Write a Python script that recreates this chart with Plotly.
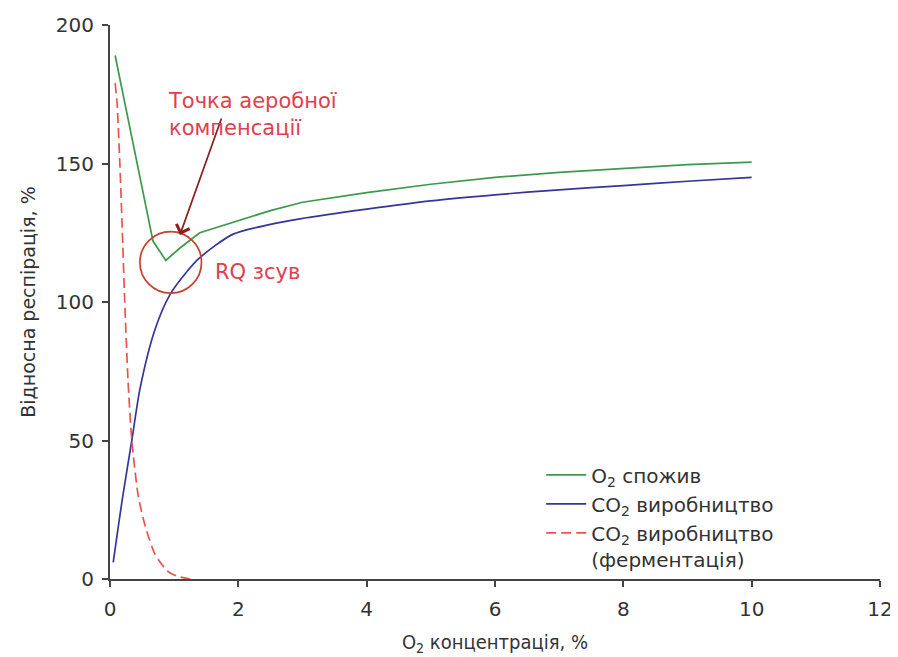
import plotly.graph_objects as go

# O2 consumption
o2_x = [0.08, 0.67, 0.87, 1.09, 1.4, 2.0, 2.5, 3.0, 4.0, 5.0, 6.0, 7.0, 8.0, 9.0, 10.0]
o2_y = [189, 122, 115, 119.5, 125, 129.5, 133, 136, 139.5, 142.5, 145, 146.8, 148.3, 149.6, 150.5]

# CO2 production
co2_x = [0.05, 0.2, 0.34, 0.47, 0.7, 0.93, 1.2, 1.4, 1.92, 2.5, 2.96, 4.0, 5.0, 6.0, 7.0, 8.0, 9.0, 10.0]
co2_y = [6, 30, 50, 69, 90, 102.5, 111, 116, 124.5, 128, 130, 133.5, 136.5, 138.7, 140.5, 142, 143.6, 145]

# CO2 production (fermentation)
fer_x = [0.08, 0.11, 0.15, 0.19, 0.23, 0.28, 0.34, 0.44, 0.55, 0.7, 0.89, 1.05, 1.25]
fer_y = [179, 172, 152, 127, 100, 72, 50, 30, 19, 9, 3, 1, 0]

x_ticks = [0, 2, 4, 6, 8, 10, 12]
y_ticks = [0, 50, 100, 150, 200]

FONT = "DejaVu Sans"
FONT_C = "DejaVu Sans Condensed, Liberation Sans Narrow, DejaVu Sans"
TXT = "#333333"
RED_TXT = "#e0404e"

fig = go.Figure()
fig.add_trace(go.Scatter(x=o2_x, y=o2_y, mode="lines", name="O<sub>2</sub> спожив",
                         line=dict(color="#3c9a4c", width=1.7)))
fig.add_trace(go.Scatter(x=co2_x, y=co2_y, mode="lines", name="CO<sub>2</sub> виробництво",
                         line=dict(color="#35359a", width=1.7, shape="spline", smoothing=0.8)))
fig.add_trace(go.Scatter(x=fer_x, y=fer_y, mode="lines",
                         name="CO<sub>2</sub> виробництво<br>(ферментація)",
                         line=dict(color="#e8554e", width=1.7, dash="10px,5px",
                                   shape="spline", smoothing=0.6)))

# RQ shift circle
fig.add_shape(type="circle", xref="x", yref="y", x0=0.466, x1=1.426, y0=103.2, y1=125.4,
              line=dict(color="#c8402e", width=1.7))

# Arrow to aerobic compensation point
fig.add_annotation(x=1.09, y=124.2, ax=1.745, ay=166.8, xref="x", yref="y", axref="x", ayref="y",
                   text="", showarrow=True, arrowhead=4, arrowsize=1.6, arrowwidth=1.7,
                   arrowcolor="#8b1e1e")
fig.add_annotation(x=0.87, y=167.7, xref="x", yref="y", xanchor="left", yanchor="middle",
                   text="Точка аеробної<br>компенсації", showarrow=False, align="left",
                   font=dict(family=FONT, size=21, color=RED_TXT))
fig.add_annotation(x=1.6, y=110.8, xref="x", yref="y", xanchor="left", yanchor="middle",
                   text="RQ зсув", showarrow=False,
                   font=dict(family=FONT, size=21, color=RED_TXT))

fig.update_layout(
    width=890, height=649,
    margin=dict(l=102, r=18, t=17, b=78, autoexpand=False),
    paper_bgcolor="white", plot_bgcolor="white",
    font=dict(family=FONT, size=20, color=TXT),
    showlegend=True,
    legend=dict(x=0.56, y=0.2233, xanchor="left", yanchor="top", valign="top",
                bgcolor="rgba(0,0,0,0)", font=dict(family=FONT, size=20, color=TXT),
                tracegroupgap=0, itemwidth=40),
    xaxis=dict(range=[0, 12], tickvals=x_ticks, showgrid=False, zeroline=False,
               showline=True, linecolor="#444444", linewidth=2, automargin=False,
               ticks="outside", ticklen=6, tickcolor="#444444", tickwidth=1.5,
               ticklabelstandoff=5,
               tickfont=dict(family=FONT, size=20, color=TXT),
               title=dict(text="O<sub>2</sub> концентрація, %",
                          font=dict(family=FONT_C, size=20, color=TXT))),
    yaxis=dict(range=[0, 200], tickvals=y_ticks, showgrid=False, zeroline=False,
               showline=True, linecolor="#444444", linewidth=2, automargin=False,
               ticks="outside", ticklen=6, tickcolor="#444444", tickwidth=1.5,
               ticklabelstandoff=4,
               tickfont=dict(family=FONT, size=20, color=TXT),
               title=dict(text="Відносна респірація, %",
                          font=dict(family=FONT, size=19, color=TXT))),
)

fig.write_html("out.html")
